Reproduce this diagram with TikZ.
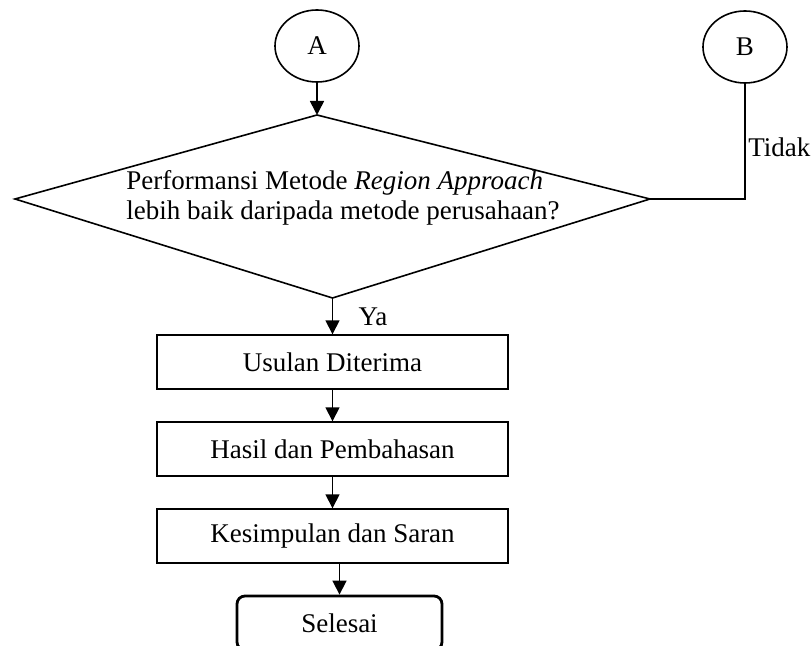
\documentclass[tikz,border=0pt]{standalone}
\usepackage{fontspec}
\setmainfont{Liberation Serif}
\usetikzlibrary{shapes.geometric,arrows.meta,positioning}

\begin{document}
\begin{tikzpicture}[x=0.5pt, y=-0.5pt, node distance=43.5pt,
	font=\fontsize{13.5}{15}\selectfont,
	connector/.style={draw, ellipse, minimum width=42pt, minimum height=36pt, inner sep=0pt, line width=0.8pt},
	process/.style={draw, minimum width=175.5pt, minimum height=27pt, line width=0.7pt},
	terminal/.style={draw, rounded corners=4pt, minimum width=102.5pt, minimum height=27pt, line width=1.4pt},
	arr/.style={-{Triangle[length=7pt,width=7pt]}, line width=0.8pt},
	flow/.style={line width=0.8pt}]
		
		\useasboundingbox (0,0) rectangle (811,646);
		
		% Draw the off-page connectors
		\node (A) [connector] at (317,46) {A};
		\node (B) [connector] at (745,47) {B};
		
		% Draw the decision
		\coordinate (dtop) at (317,115);
		\coordinate (dleft) at (15,199);
		\coordinate (dbot) at (332.5,298);
		\coordinate (dright) at (650,199);
		\draw[flow] (dtop) -- (dleft) -- (dbot) -- (dright) -- cycle;
		\node (question) [align=left] at (343,198) {Performansi Metode \textit{Region Approach}\\lebih baik daripada metode perusahaan?};
		
		% Draw the process steps
		\node (usulan) [process] at (332.5,362) {Usulan Diterima};
		\node (hasil) [process, below of=usulan] {Hasil dan Pembahasan};
		\node (kesimpulan) [process, below of=hasil] {Kesimpulan dan Saran};
		
		% Draw the terminal
		\node (selesai) [terminal, below of=kesimpulan, xshift=3.5pt] {Selesai};
		
		% Connect the steps with arrows
		\draw[arr] (A) -- (dtop);
		\draw[arr] (dbot) -- (dbot |- usulan.north);
		\draw[arr] (usulan) -- (hasil);
		\draw[arr] (hasil) -- (kesimpulan);
		\draw[arr] (selesai.north |- kesimpulan.south) -- (selesai.north);
		
		% Add the branch labels
		\draw[flow] (B.south) |- (dright);
		\node (tidak) [anchor=west, inner sep=1.5pt] at (745,147) {Tidak};
		\node (ya) at (373,317) {Ya};
		\end{tikzpicture}
\end{document}
